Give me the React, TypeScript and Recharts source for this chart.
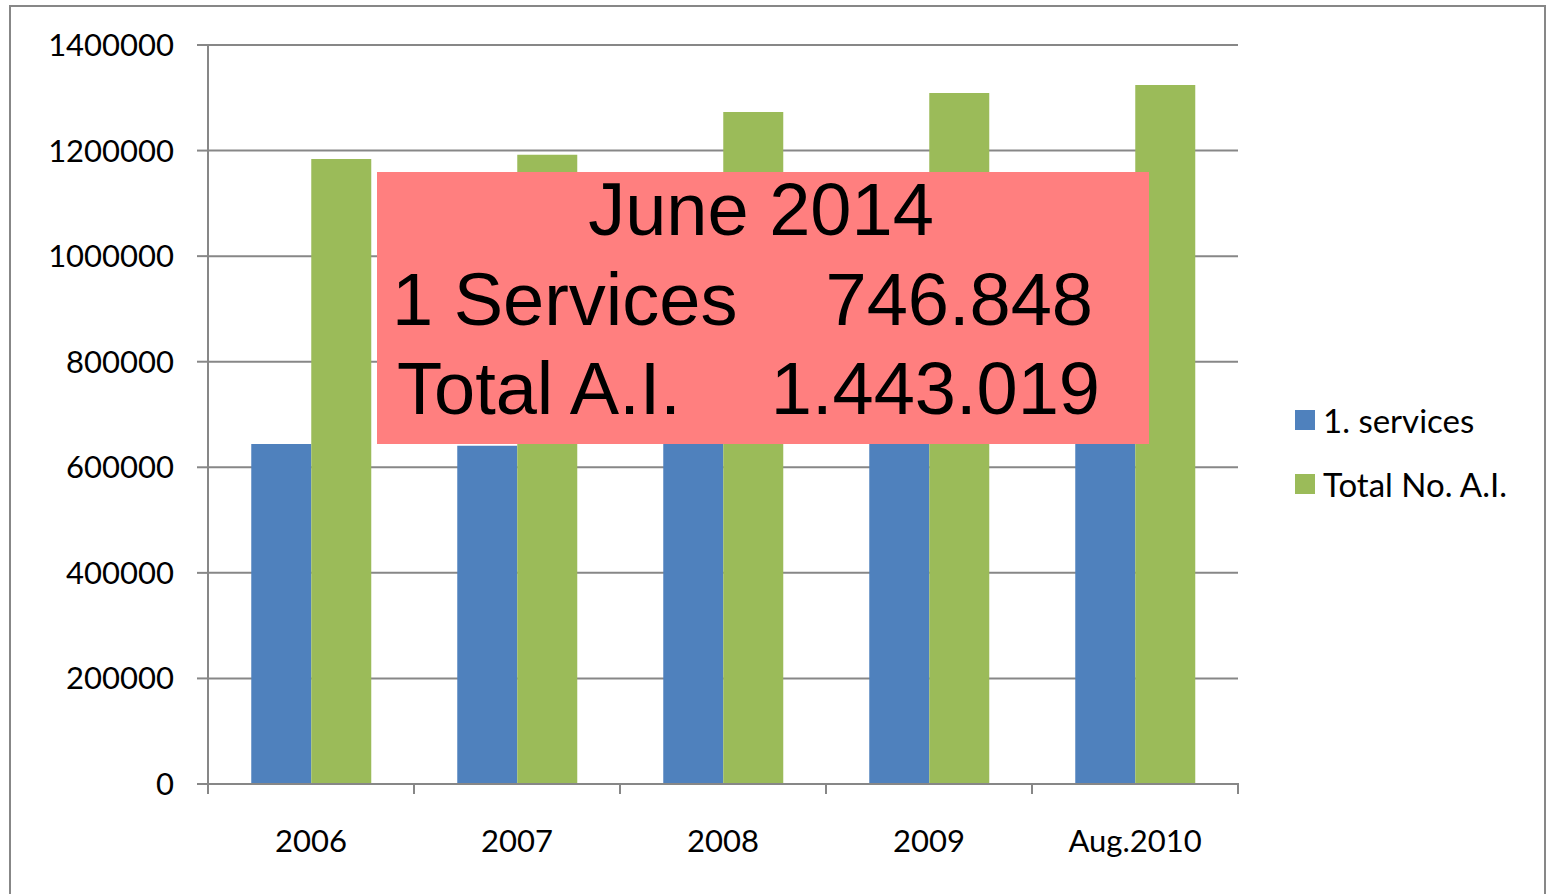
import React from 'react';
import { BarChart, Bar, XAxis, YAxis, CartesianGrid, Legend } from 'recharts';

const categories = ['2006', '2007', '2008', '2009', 'Aug.2010'];
const servicesValues = [644000, 641000, 646000, 648000, 650000];
const totalValues = [1184000, 1192000, 1273000, 1309000, 1324000];
const yTicks = [0, 200000, 400000, 600000, 800000, 1000000, 1200000, 1400000];

const data = categories.map((year, i) => ({
  year,
  services: servicesValues[i],
  total: totalValues[i],
}));

const AXIS = '#878787';
const FONT = 'Lato, "Open Sans", sans-serif';
const tickStyle = { fontSize: 31, fill: '#000', fontFamily: FONT };

// category label plus the tick marks on the band edges
const CategoryTick = (props: any) => {
  const { x, y, payload, index, visibleTicksCount } = props;
  const half = payload && payload.offset ? payload.offset : 0;
  const isLast = index === visibleTicksCount - 1;
  return (
    <g>
      <line x1={x - half} x2={x - half} y1={y - 1} y2={y + 10} stroke={AXIS} strokeWidth={2} />
      {isLast && <line x1={x + half} x2={x + half} y1={y - 1} y2={y + 10} stroke={AXIS} strokeWidth={2} />}
      <text x={x} y={y + 46} dy="0.71em" textAnchor="middle" {...tickStyle}>
        {payload.value}
      </text>
    </g>
  );
};

const LegendBox = (props: any) => {
  const items = props.payload || [];
  return (
    <div style={{ fontFamily: FONT, fontSize: 33, color: '#000' }}>
      {items.map((it: any) => (
        <div key={it.value} style={{ display: 'flex', alignItems: 'center', height: 64 }}>
          <span style={{ width: 20, height: 20, background: it.color, marginRight: 8, display: 'inline-block' }} />
          <span>{it.value}</span>
        </div>
      ))}
    </div>
  );
};

const boxText: React.CSSProperties = {
  position: 'absolute',
  fontFamily: '"Liberation Sans", Arial, sans-serif',
  fontSize: 74,
  lineHeight: '74px',
  color: '#000',
  whiteSpace: 'pre',
};

export default function App() {
  return (
    <div style={{ position: 'absolute', left: 0, top: 0, width: 1546, height: 894, background: '#fff', overflow: 'hidden' }}>
      <div style={{ position: 'absolute', left: 9, top: 5, width: 1537, height: 1000, border: `2px solid ${AXIS}`, boxSizing: 'border-box' }} />
      <div style={{ position: 'absolute', left: 0, top: 0 }}>
        <BarChart
          width={1546}
          height={894}
          data={data}
          margin={{ top: 45, right: 308, left: 0, bottom: 109 }}
          barCategoryGap="21%"
          barGap={0}
        >
          <CartesianGrid horizontal vertical={false} stroke={AXIS} strokeWidth={2} />
          <XAxis
            dataKey="year"
            height={1}
            tickLine={false}
            axisLine={{ stroke: AXIS, strokeWidth: 2 }}
            tickSize={0}
            tickMargin={0}
            tick={<CategoryTick />}
            interval={0}
          />
          <YAxis
            width={208}
            domain={[0, 1400000]}
            ticks={yTicks}
            interval={0}
            axisLine={{ stroke: AXIS, strokeWidth: 2 }}
            tickLine={{ stroke: AXIS, strokeWidth: 2 }}
            tickSize={11}
            tickMargin={23}
            tick={tickStyle}
          />
          <Legend
            layout="horizontal"
            align="center"
            verticalAlign="middle"
            content={<LegendBox />}
            wrapperStyle={{ left: 1295, top: 388, width: 250 }}
          />
          <Bar dataKey="services" name="1. services" fill="#4F81BD" isAnimationActive={false} />
          <Bar dataKey="total" name="Total No. A.I." fill="#9BBB59" isAnimationActive={false} />
        </BarChart>
      </div>
      <div style={{ position: 'absolute', left: 377, top: 172, width: 772, height: 272, background: '#FF7F7F' }}>
        <div style={{ ...boxText, left: 0, width: 768, top: 1, textAlign: 'center' }}>June 2014</div>
        <div style={{ ...boxText, left: 15, top: 91 }}>1 Services</div>
        <div style={{ ...boxText, right: 56, top: 91 }}>746.848</div>
        <div style={{ ...boxText, left: 20, top: 180 }}>Total A.I.</div>
        <div style={{ ...boxText, right: 49, top: 180 }}>1.443.019</div>
      </div>
    </div>
  );
}
